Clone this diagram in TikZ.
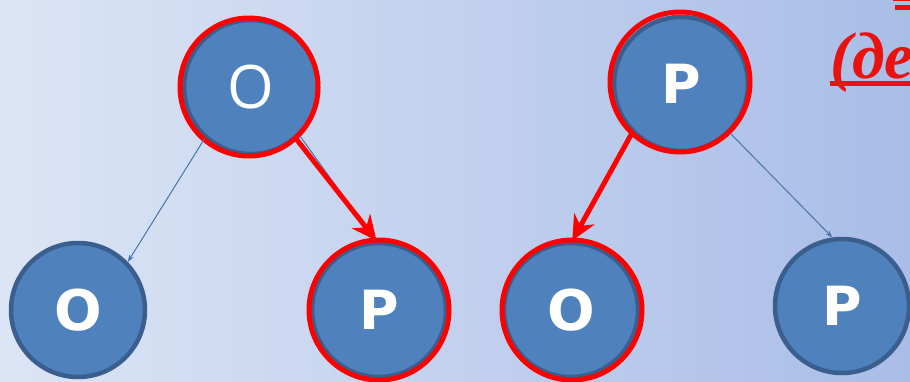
\documentclass[tikz,border=0pt]{standalone}
\usepackage{fontspec}
\usetikzlibrary{arrows.meta}
\newfontfamily\thinsans{Open Sans}
\newfontfamily\boldsans{DejaVu Sans}[BoldFont={DejaVu Sans Bold}]
\newfontfamily\cyrserif{Liberation Serif}
\definecolor{nodeblue}{HTML}{4F81BD}
\definecolor{nodeedge}{HTML}{3A5F8E}
\definecolor{hired}{HTML}{FF0000}
\definecolor{txtred}{HTML}{E8130F}
\definecolor{bgleft}{HTML}{DCE5F5}
\definecolor{bgright}{HTML}{A9BDE7}
\tikzset{
  ball/.style={circle, fill=nodeblue, draw=nodeedge, line width=4.5pt,
    minimum size=134pt, inner sep=0pt, text=white},
  ring/.style={draw=hired, line width=5pt},
  thinarrow/.style={draw=nodeblue!90!black, line width=1pt, -{Stealth[length=7pt,width=5pt]}},
  redarrow/.style={draw=hired, line width=5pt, -{Stealth[length=25pt,width=23pt,inset=8pt]}},
}
\begin{document}
\begin{tikzpicture}[x=1pt,y=-1pt]
\useasboundingbox (0,0) rectangle (910,381);
\clip (0,0) rectangle (910,381);
\shade[left color=bgleft, right color=bgright] (0,0) rectangle (910,381);

% nodes
\node[ball, font=\thinsans\fontsize{60}{60}\selectfont] (oT) at (251,87) {O};
\node[ball, font=\boldsans\bfseries\fontsize{54}{54}\selectfont] (pT) at (681,84) {P};
\node[ball, font=\boldsans\bfseries\fontsize{56}{56}\selectfont] (oL) at (78,310) {O};
\node[ball, font=\boldsans\bfseries\fontsize{54}{54}\selectfont] (pM) at (379,310) {P};
\node[ball, font=\boldsans\bfseries\fontsize{56}{56}\selectfont] (oM) at (571,310) {O};
\node[ball, font=\boldsans\bfseries\fontsize{54}{54}\selectfont] (pR) at (842,306) {P};

% red highlight rings
\draw[ring] (oT.center) ++(-2,0) circle (69);
\draw[ring] (pT.center) ++(-1,-2) circle (70);
\draw[ring] (pM.center) circle (70);
\draw[ring] (oM.center) ++(1,0) circle (70);

% connectors
\draw[thinarrow] (oT.228) -- (oL.44);
\draw[thinarrow] (oT.315) -- (pM.93);
\draw[thinarrow] (pT.315) -- (pR.98);
\draw[redarrow] (oT.311) -- (pM.92);
\draw[redarrow] (pT.225) -- (oM.89);

% cut-off title text
\node[anchor=base west, inner sep=0pt, text=txtred,
  font=\cyrserif\bfseries\itshape\fontsize{66}{66}\selectfont] (title) at (830,78) {(де};
\fill[txtred] (830,81) rectangle (910,86);
\fill[txtred] (895,5) rectangle (910,10);
\fill[txtred] (893,0) rectangle (910,1);
\end{tikzpicture}
\end{document}
